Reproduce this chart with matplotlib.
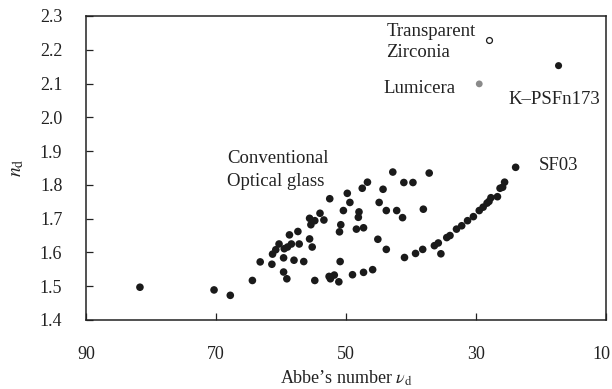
import matplotlib
matplotlib.use("Agg")
import matplotlib.pyplot as plt
import matplotlib.transforms as mtransforms

plt.rcParams['font.family'] = ['Liberation Serif', 'DejaVu Serif']
plt.rcParams['mathtext.fontset'] = 'stix'

# Conventional optical glass (Abbe number, refractive index)
glass_abbe = [81.7, 70.3, 67.8, 64.4, 63.2, 61.4, 61.3, 60.8, 60.3, 59.6, 59.6, 59.1,
              59.5, 59.0, 58.7, 58.4, 58.0, 57.4, 57.2, 56.5, 55.6, 55.2, 55.6, 55.4,
              54.8, 54.8, 54.0, 53.4, 52.5, 52.6, 51.8, 52.4, 51.1, 50.9, 51.0, 50.8,
              50.4, 49.8, 49.4, 49.0, 48.4, 48.1, 48.0, 47.5, 47.3, 46.7, 47.3, 45.9,
              45.1, 44.9, 44.3, 43.8, 43.8, 42.8, 42.2, 41.3, 41.1, 39.7, 38.1, 37.2,
              41.0, 39.3, 38.2, 36.4, 35.8, 35.4, 34.5, 34.0, 33.0, 32.2, 31.3, 30.4,
              29.5, 28.9, 28.3, 28.0, 27.7, 26.7, 26.3, 25.9, 25.6, 23.9]
glass_nd = [1.497, 1.489, 1.473, 1.517, 1.572, 1.565, 1.595, 1.608, 1.625, 1.584, 1.542, 1.522,
            1.611, 1.616, 1.652, 1.625, 1.577, 1.662, 1.625, 1.573, 1.640, 1.616, 1.701, 1.682,
            1.694, 1.517, 1.716, 1.696, 1.759, 1.529, 1.533, 1.522, 1.513, 1.573, 1.661, 1.682,
            1.724, 1.775, 1.748, 1.534, 1.669, 1.704, 1.720, 1.790, 1.673, 1.808, 1.541, 1.549,
            1.639, 1.748, 1.787, 1.724, 1.609, 1.838, 1.724, 1.703, 1.807, 1.807, 1.728, 1.835,
            1.585, 1.597, 1.609, 1.620, 1.628, 1.596, 1.644, 1.650, 1.669, 1.679, 1.694, 1.706,
            1.724, 1.734, 1.746, 1.751, 1.762, 1.765, 1.790, 1.793, 1.808, 1.852]

kpsfn_abbe, kpsfn_nd = [17.3], [2.153]
lumicera_abbe, lumicera_nd = [29.5], [2.099]
zirconia_abbe, zirconia_nd = [28.0], [2.229]

xticks = [90, 70, 50, 30, 10]
yticks = [1.4, 1.5, 1.6, 1.7, 1.8, 1.9, 2.0, 2.1, 2.2, 2.3]

fig = plt.figure(figsize=(6.12, 3.89), dpi=100)
ax = fig.add_axes([0.1405, 0.1774, 0.8497, 0.7815])

ax.scatter(glass_abbe, glass_nd, s=30, color='#1a1a1a', edgecolors='none', zorder=3)
ax.scatter(kpsfn_abbe, kpsfn_nd, s=26, color='#1a1a1a', edgecolors='none', zorder=3)
ax.scatter(lumicera_abbe, lumicera_nd, s=24, color='#8a8a8a', edgecolors='none', zorder=3)
ax.scatter(zirconia_abbe, zirconia_nd, s=18, facecolors='white', edgecolors='#1a1a1a',
           linewidths=0.9, zorder=3)

ax.set_xlim(90, 10)
ax.set_ylim(1.4, 2.3)
ax.set_xticks(xticks)
ax.set_yticks(yticks)
ax.set_xticklabels([str(v) for v in xticks])
ax.set_yticklabels([f"{v:.1f}" for v in yticks])

for s in ax.spines.values():
    s.set_linewidth(1.1)
    s.set_color('#222222')

ax.tick_params(axis='x', direction='in', length=5, width=0.9, pad=19,
               labelsize=13, colors='#222222', top=False)
ax.tick_params(axis='y', direction='in', length=5, width=0.9, pad=17,
               labelsize=13, colors='#222222', right=False)

# keep the last x tick label inside the figure edge
last = ax.get_xticklabels()[-1]
last.set_transform(last.get_transform() +
                   mtransforms.ScaledTranslation(-5 / 100, 0, fig.dpi_scale_trans))

ax.set_xlabel("Abbe\u2019s number $\\nu_{\\mathrm{d}}$", fontsize=13, color='#222222', labelpad=4)
ax.set_ylabel("$n_{\\mathrm{d}}$", fontsize=14, color='#222222', labelpad=10)

tkw = dict(fontsize=13.5, color='#222222', va='center')
ax.text(68.3, 1.877, "Conventional", ha='left', **tkw)
ax.text(68.3, 1.809, "Optical glass", ha='left', **tkw)
ax.text(43.8, 2.254, "Transparent", ha='left', **tkw)
ax.text(43.8, 2.191, "Zirconia", ha='left', **tkw)
ax.text(33.2, 2.084, "Lumicera", ha='right', **tkw)
ax.text(25.0, 2.054, "K\u2013PSFn173", ha='left', **tkw)
ax.text(20.4, 1.857, "SF03", ha='left', **tkw)

fig.savefig("out.png", dpi=100)
